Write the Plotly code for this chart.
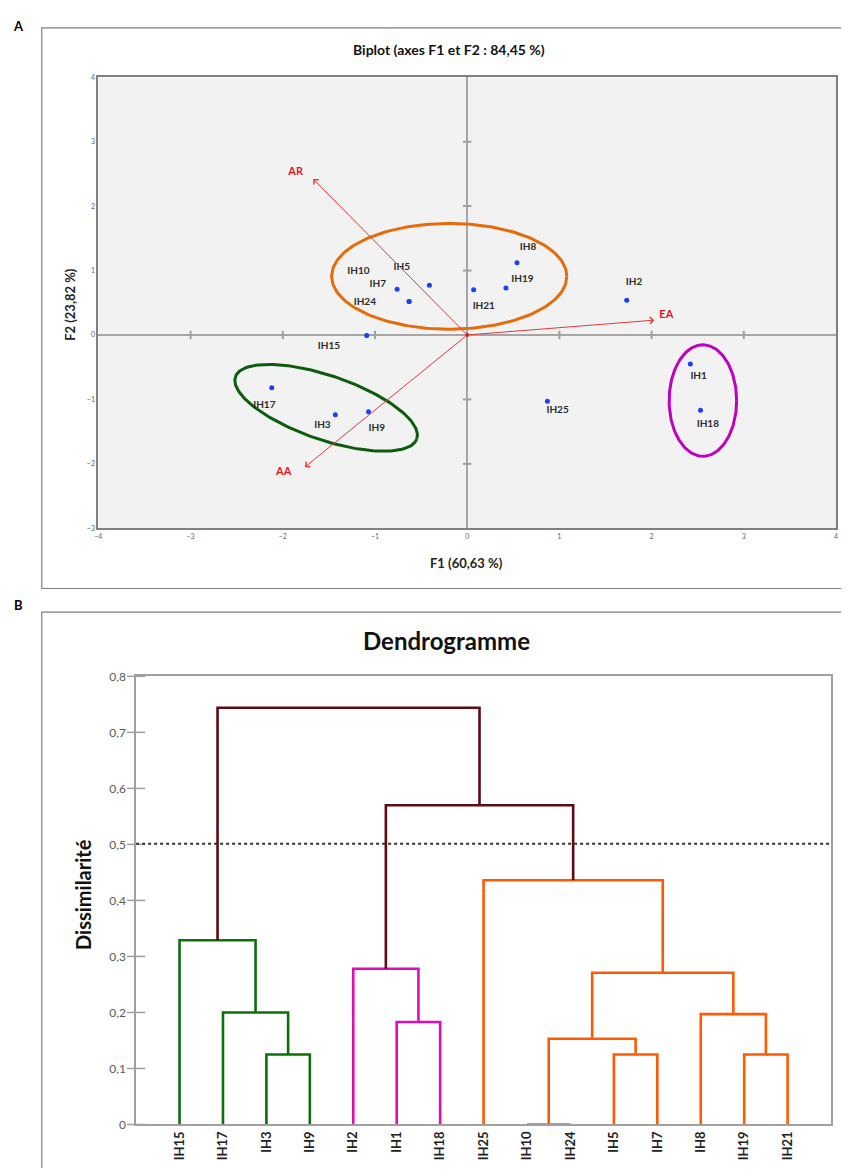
import numpy as np
import plotly.graph_objects as go

# page gets an 8px body margin, so the figure is 16px smaller than the window
PAD = 8
W, H = 849 - 2 * PAD, 1176 - 2 * PAD


def PX(px):
    return (px - PAD) / W


def PY(py):
    return 1 - (py - PAD) / H


# ---------------- Panel A data (biplot) ----------------
obs_names = ["IH1", "IH2", "IH3", "IH5", "IH7", "IH8", "IH9", "IH10", "IH15",
             "IH17", "IH18", "IH19", "IH21", "IH24", "IH25"]
obs_f1 = [2.42, 1.73, -1.43, -0.41, -0.76, 0.54, -1.07, -0.63, -1.09,
          -2.12, 2.53, 0.42, 0.07, -0.63, 0.87]
obs_f2 = [-0.45, 0.54, -1.24, 0.77, 0.71, 1.12, -1.19, 0.52, -0.01,
          -0.82, -1.17, 0.73, 0.70, 0.52, -1.03]
lab_f1 = [2.51, 1.81, -1.57, -0.71, -0.97, 0.66, -0.98, -1.18, -1.50,
          -2.20, 2.61, 0.60, 0.18, -1.11, 0.98]
lab_f2 = [-0.64, 0.81, -1.41, 1.04, 0.78, 1.35, -1.45, 0.98, -0.18,
          -1.09, -1.39, 0.86, 0.44, 0.51, -1.18]

var_names = ["AR", "AA", "EA"]
var_f1 = [-1.67, -1.76, 2.03]
var_f2 = [2.42, -2.05, 0.23]
var_lab_f1 = [-1.86, -1.99, 2.16]
var_lab_f2 = [2.53, -2.13, 0.31]

x_ticks = [-4, -3, -2, -1, 0, 1, 2, 3, 4]
y_ticks = [-3, -2, -1, 0, 1, 2, 3, 4]

# group ellipses: center f1, center f2, semi-axis 1, semi-axis 2, tilt (deg), colour
ell_cx = [-0.195, -1.53, 2.556]
ell_cy = [0.91, -1.13, -1.018]
ell_a = [1.275, 1.04, 0.366]
ell_b = [0.82, 0.35, 0.865]
ell_ang = [0, -19, 0]
ell_col = ["#e46c0a", "#0d5c0d", "#c000c0"]

# ---------------- Panel B data (dendrogram) ----------------
leaves = ["IH15", "IH17", "IH3", "IH9", "IH2", "IH1", "IH18", "IH25",
          "IH10", "IH24", "IH5", "IH7", "IH8", "IH19", "IH21"]
merge_left = ["IH10", "IH3", "IH5", "IH19", "IH1", "n1", "IH17", "IH8",
              "n6", "IH2", "IH15", "IH25", "n10", "n11"]
merge_right = ["IH24", "IH9", "IH7", "IH21", "IH18", "n3", "n2", "n4",
               "n8", "n5", "n7", "n9", "n12", "n13"]
merge_height = [0.0, 0.125, 0.125, 0.125, 0.183, 0.153, 0.200, 0.197,
                0.271, 0.278, 0.329, 0.436, 0.570, 0.744]
merge_color = ["orange", "green", "orange", "orange", "magenta", "orange",
               "green", "orange", "orange", "magenta", "green", "orange",
               "brown", "brown"]
cut_level = 0.501
d_ticks = [0, 0.1, 0.2, 0.3, 0.4, 0.5, 0.6, 0.7, 0.8]
d_ticktext = ["0", "0,1", "0,2", "0,3", "0,4", "0,5", "0,6", "0,7", "0,8"]

palette = {"green": "#0e6e0e", "magenta": "#e00cb8", "orange": "#ff5a00",
           "brown": "#5e0a14"}

FONT = "Lato, 'Open Sans', sans-serif"

fig = go.Figure()

shapes = []
shapes.append(dict(type="rect", xref="x domain", yref="y domain", x0=0, x1=1,
                   y0=0, y1=1, fillcolor="#f2f2f2", line=dict(width=0),
                   layer="below"))
# panel frames
shapes.append(dict(type="rect", xref="paper", yref="paper", x0=PX(38), x1=1.02,
                   y0=PY(588), y1=PY(20), line=dict(color="#7f7f7f", width=1.2)))
shapes.append(dict(type="rect", xref="paper", yref="paper", x0=PX(38), x1=1.02,
                   y0=-0.02, y1=PY(612), line=dict(color="#7f7f7f", width=1.2)))

# ellipses
t = np.linspace(0, 2 * np.pi, 200)
asp = 65.3 / 92.9  # visual size of a y unit relative to an x unit
for cx, cy, a, b, ang, col in zip(ell_cx, ell_cy, ell_a, ell_b, ell_ang, ell_col):
    th = np.deg2rad(ang)
    u = a * np.cos(t) * np.cos(th) - b * np.sin(t) * np.sin(th)
    v = a * np.cos(t) * np.sin(th) + b * np.sin(t) * np.cos(th)
    ex = cx + u
    ey = cy + (v / asp if ang != 0 else v)
    fig.add_trace(go.Scatter(x=ex, y=ey, mode="lines", line=dict(color=col, width=3),
                             hoverinfo="skip", showlegend=False, xaxis="x", yaxis="y"))

# tick marks along zero lines
inner_x = [v for v in x_ticks if v not in (0, x_ticks[0], x_ticks[-1])]
inner_y = [v for v in y_ticks if v not in (0, y_ticks[0], y_ticks[-1])]
fig.add_trace(go.Scatter(x=inner_x, y=[0] * len(inner_x), mode="markers",
                         marker=dict(symbol="line-ns", size=6,
                                     line=dict(color="#a0a0a0", width=2)),
                         hoverinfo="skip", showlegend=False, xaxis="x", yaxis="y"))
fig.add_trace(go.Scatter(x=[0] * len(inner_y), y=inner_y, mode="markers",
                         marker=dict(symbol="line-ew", size=6,
                                     line=dict(color="#a0a0a0", width=2)),
                         hoverinfo="skip", showlegend=False, xaxis="x", yaxis="y"))

# points and labels
fig.add_trace(go.Scatter(x=obs_f1, y=obs_f2, mode="markers",
                         marker=dict(color="#1f3cff", size=5),
                         showlegend=False, xaxis="x", yaxis="y"))
fig.add_trace(go.Scatter(x=lab_f1, y=lab_f2, mode="text",
                         text=["<b>%s</b>" % n for n in obs_names],
                         textfont=dict(family=FONT, size=10, color="#2b2b2b"),
                         showlegend=False, xaxis="x", yaxis="y"))
fig.add_trace(go.Scatter(x=var_lab_f1, y=var_lab_f2, mode="text",
                         text=["<b>%s</b>" % n for n in var_names],
                         textfont=dict(family=FONT, size=11, color="#e8141e"),
                         showlegend=False, xaxis="x", yaxis="y"))
fig.add_trace(go.Scatter(x=[0], y=[0], mode="markers",
                         marker=dict(color="#e8141e", size=4),
                         showlegend=False, xaxis="x", yaxis="y"))

annotations = []
for vx, vy in zip(var_f1, var_f2):
    annotations.append(dict(x=vx, y=vy, ax=0, ay=0, xref="x", yref="y",
                            axref="x", ayref="y", showarrow=True, arrowhead=4,
                            arrowsize=1.3, arrowwidth=1, arrowcolor="#e03a3a", text=""))

# ---- dendrogram ----
pos = {name: float(i) for i, name in enumerate(leaves)}
hgt = {name: 0.0 for name in leaves}
seg_x = {k: [] for k in palette}
seg_y = {k: [] for k in palette}
for i, (l, r, h, c) in enumerate(zip(merge_left, merge_right, merge_height, merge_color)):
    xl, xr = pos[l], pos[r]
    seg_x[c] += [xl, xl, xr, xr, None]
    seg_y[c] += [hgt[l], h, h, hgt[r], None]
    nid = "n%d" % (i + 1)
    pos[nid] = (xl + xr) / 2
    hgt[nid] = h

# crossing tick marks on the dissimilarity axis
fig.add_trace(go.Scatter(x=[-1] * len(d_ticks), y=d_ticks, mode="markers",
                         marker=dict(symbol="line-ew", size=13,
                                     line=dict(color="#a0a0a0", width=1.5)),
                         cliponaxis=False, hoverinfo="skip", showlegend=False,
                         xaxis="x2", yaxis="y2"))

for c in ["green", "magenta", "orange", "brown"]:
    fig.add_trace(go.Scatter(x=seg_x[c], y=seg_y[c], mode="lines",
                             line=dict(color=palette[c], width=2.6),
                             hoverinfo="skip", showlegend=False,
                             xaxis="x2", yaxis="y2"))

shapes.append(dict(type="line", xref="x2 domain", yref="y2", x0=0, x1=1,
                   y0=cut_level, y1=cut_level,
                   line=dict(color="#333333", width=2, dash="dot")))


def note(text, px, py, size, color="#111", angle=0):
    return dict(text=text, x=PX(px), y=PY(py), xref="paper", yref="paper",
                xanchor="center", yanchor="middle", showarrow=False,
                textangle=angle, font=dict(family=FONT, size=size, color=color))


annotations += [
    note("<b>A</b>", 15, 18, 13, "#000"),
    note("<b>B</b>", 15, 605, 13, "#000"),
    note("<b>Biplot (axes F1 et F2 : 84,45 %)</b>", 448, 42, 14),
    note("<b>F1 (60,63 %)</b>", 466, 562, 13, "#222"),
    note("<b>F2 (23,82 %)</b>", 67, 300, 13, "#222", -90),
    note("<b>Dendrogramme</b>", 446, 641, 24),
    note("<b>Dissimilarité</b>", 80, 898, 20, "#111", -90),
]

fig.update_layout(
    width=W, height=H, margin=dict(l=0, r=0, t=0, b=0),
    paper_bgcolor="white", plot_bgcolor="white",
    showlegend=False, shapes=shapes, annotations=annotations,
    xaxis=dict(domain=[PX(95), PX(838)], range=[-4, 4], tickvals=x_ticks,
               showgrid=False, zeroline=True, zerolinecolor="#a6a6a6", zerolinewidth=2,
               showline=True, mirror=True, linecolor="#808080", linewidth=2,
               ticks="", tickfont=dict(family=FONT, size=7, color="#666"),
               anchor="y", fixedrange=True),
    yaxis=dict(domain=[PY(527), PY(70)], range=[-3, 4], tickvals=y_ticks,
               showgrid=False, zeroline=True, zerolinecolor="#a6a6a6", zerolinewidth=2,
               showline=True, mirror=True, linecolor="#808080", linewidth=2,
               ticks="", tickfont=dict(family=FONT, size=7, color="#666"),
               anchor="x", fixedrange=True),
    xaxis2=dict(domain=[PX(133), PX(833)], range=[-1, 15],
                tickvals=list(range(len(leaves))),
                ticktext=["<b>%s</b>" % n for n in leaves], tickangle=-90,
                showgrid=False, zeroline=False, showline=True, mirror=True,
                linecolor="#a0a0a0", linewidth=1.5, ticks="",
                tickfont=dict(family=FONT, size=13, color="#222"),
                anchor="y2", fixedrange=True),
    yaxis2=dict(domain=[PY(1131), PY(677)], range=[0, 0.8],
                tickvals=d_ticks, ticktext=d_ticktext,
                showgrid=False, zeroline=False, showline=True, mirror=True,
                linecolor="#a0a0a0", linewidth=1.5, ticks="outside", ticklen=6,
                tickcolor="rgba(0,0,0,0)",
                tickfont=dict(family=FONT, size=12, color="#595959"),
                anchor="x2", fixedrange=True),
)

fig.write_html("out.html")
